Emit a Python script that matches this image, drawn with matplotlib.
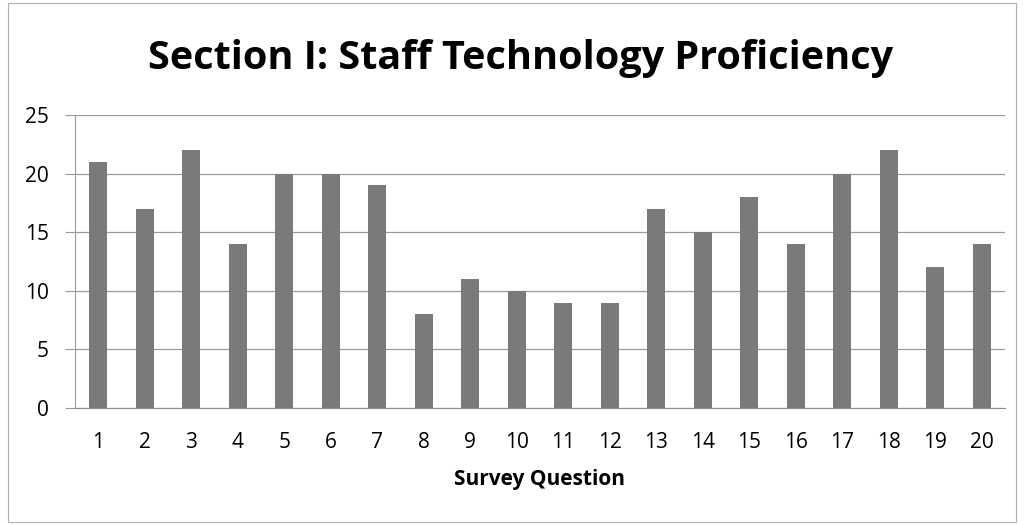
import matplotlib
matplotlib.use("Agg")
import matplotlib.pyplot as plt
from matplotlib.patches import Rectangle

questions = [str(i) for i in range(1, 21)]
counts = [21, 17, 22, 14, 20, 20, 19, 8, 11, 10, 9, 9, 17, 15, 18, 14, 20, 22, 12, 14]
yticks = [0, 5, 10, 15, 20, 25]

plt.rcParams['font.family'] = ['Open Sans', 'DejaVu Sans']

fig = plt.figure(figsize=(10.24, 5.25), dpi=100)
fig.patches.append(Rectangle((8/1024, 0.005), 1 - 16/1024, 0.99, transform=fig.transFigure,
                             fill=False, edgecolor='#b0b0b0', linewidth=0.8))
ax = fig.add_axes([75/1024, 1 - 408/525, (1005 - 75)/1024, (408 - 115)/525])
x = list(range(len(questions)))
ax.bar(x, counts, width=0.38, color='#7a7a7a', zorder=3)
ax.set_xlim(-0.5, len(questions) - 0.5)
ax.set_ylim(0, 25)
ax.set_yticks(yticks)
ax.set_xticks(x)
ax.set_xticklabels(questions)
ax.grid(axis='y', color='#9a9a9a', linewidth=0.9, zorder=0)
for s in ['top', 'right']:
    ax.spines[s].set_visible(False)
ax.spines['left'].set_color('#9a9a9a')
ax.spines['bottom'].set_color('#8a8a8a')
ax.tick_params(axis='y', length=7, color='#9a9a9a', labelsize=15, pad=12)
ax.tick_params(axis='x', length=0, labelsize=15, pad=17)
ax.set_xlabel('Survey Question', fontsize=15, fontweight='bold', labelpad=12)
fig.text(521/1024, 1 - 58/525, 'Section I: Staff Technology Proficiency', ha='center', va='center',
         fontsize=28.5, fontweight='bold')
fig.savefig('out.png', dpi=100)
